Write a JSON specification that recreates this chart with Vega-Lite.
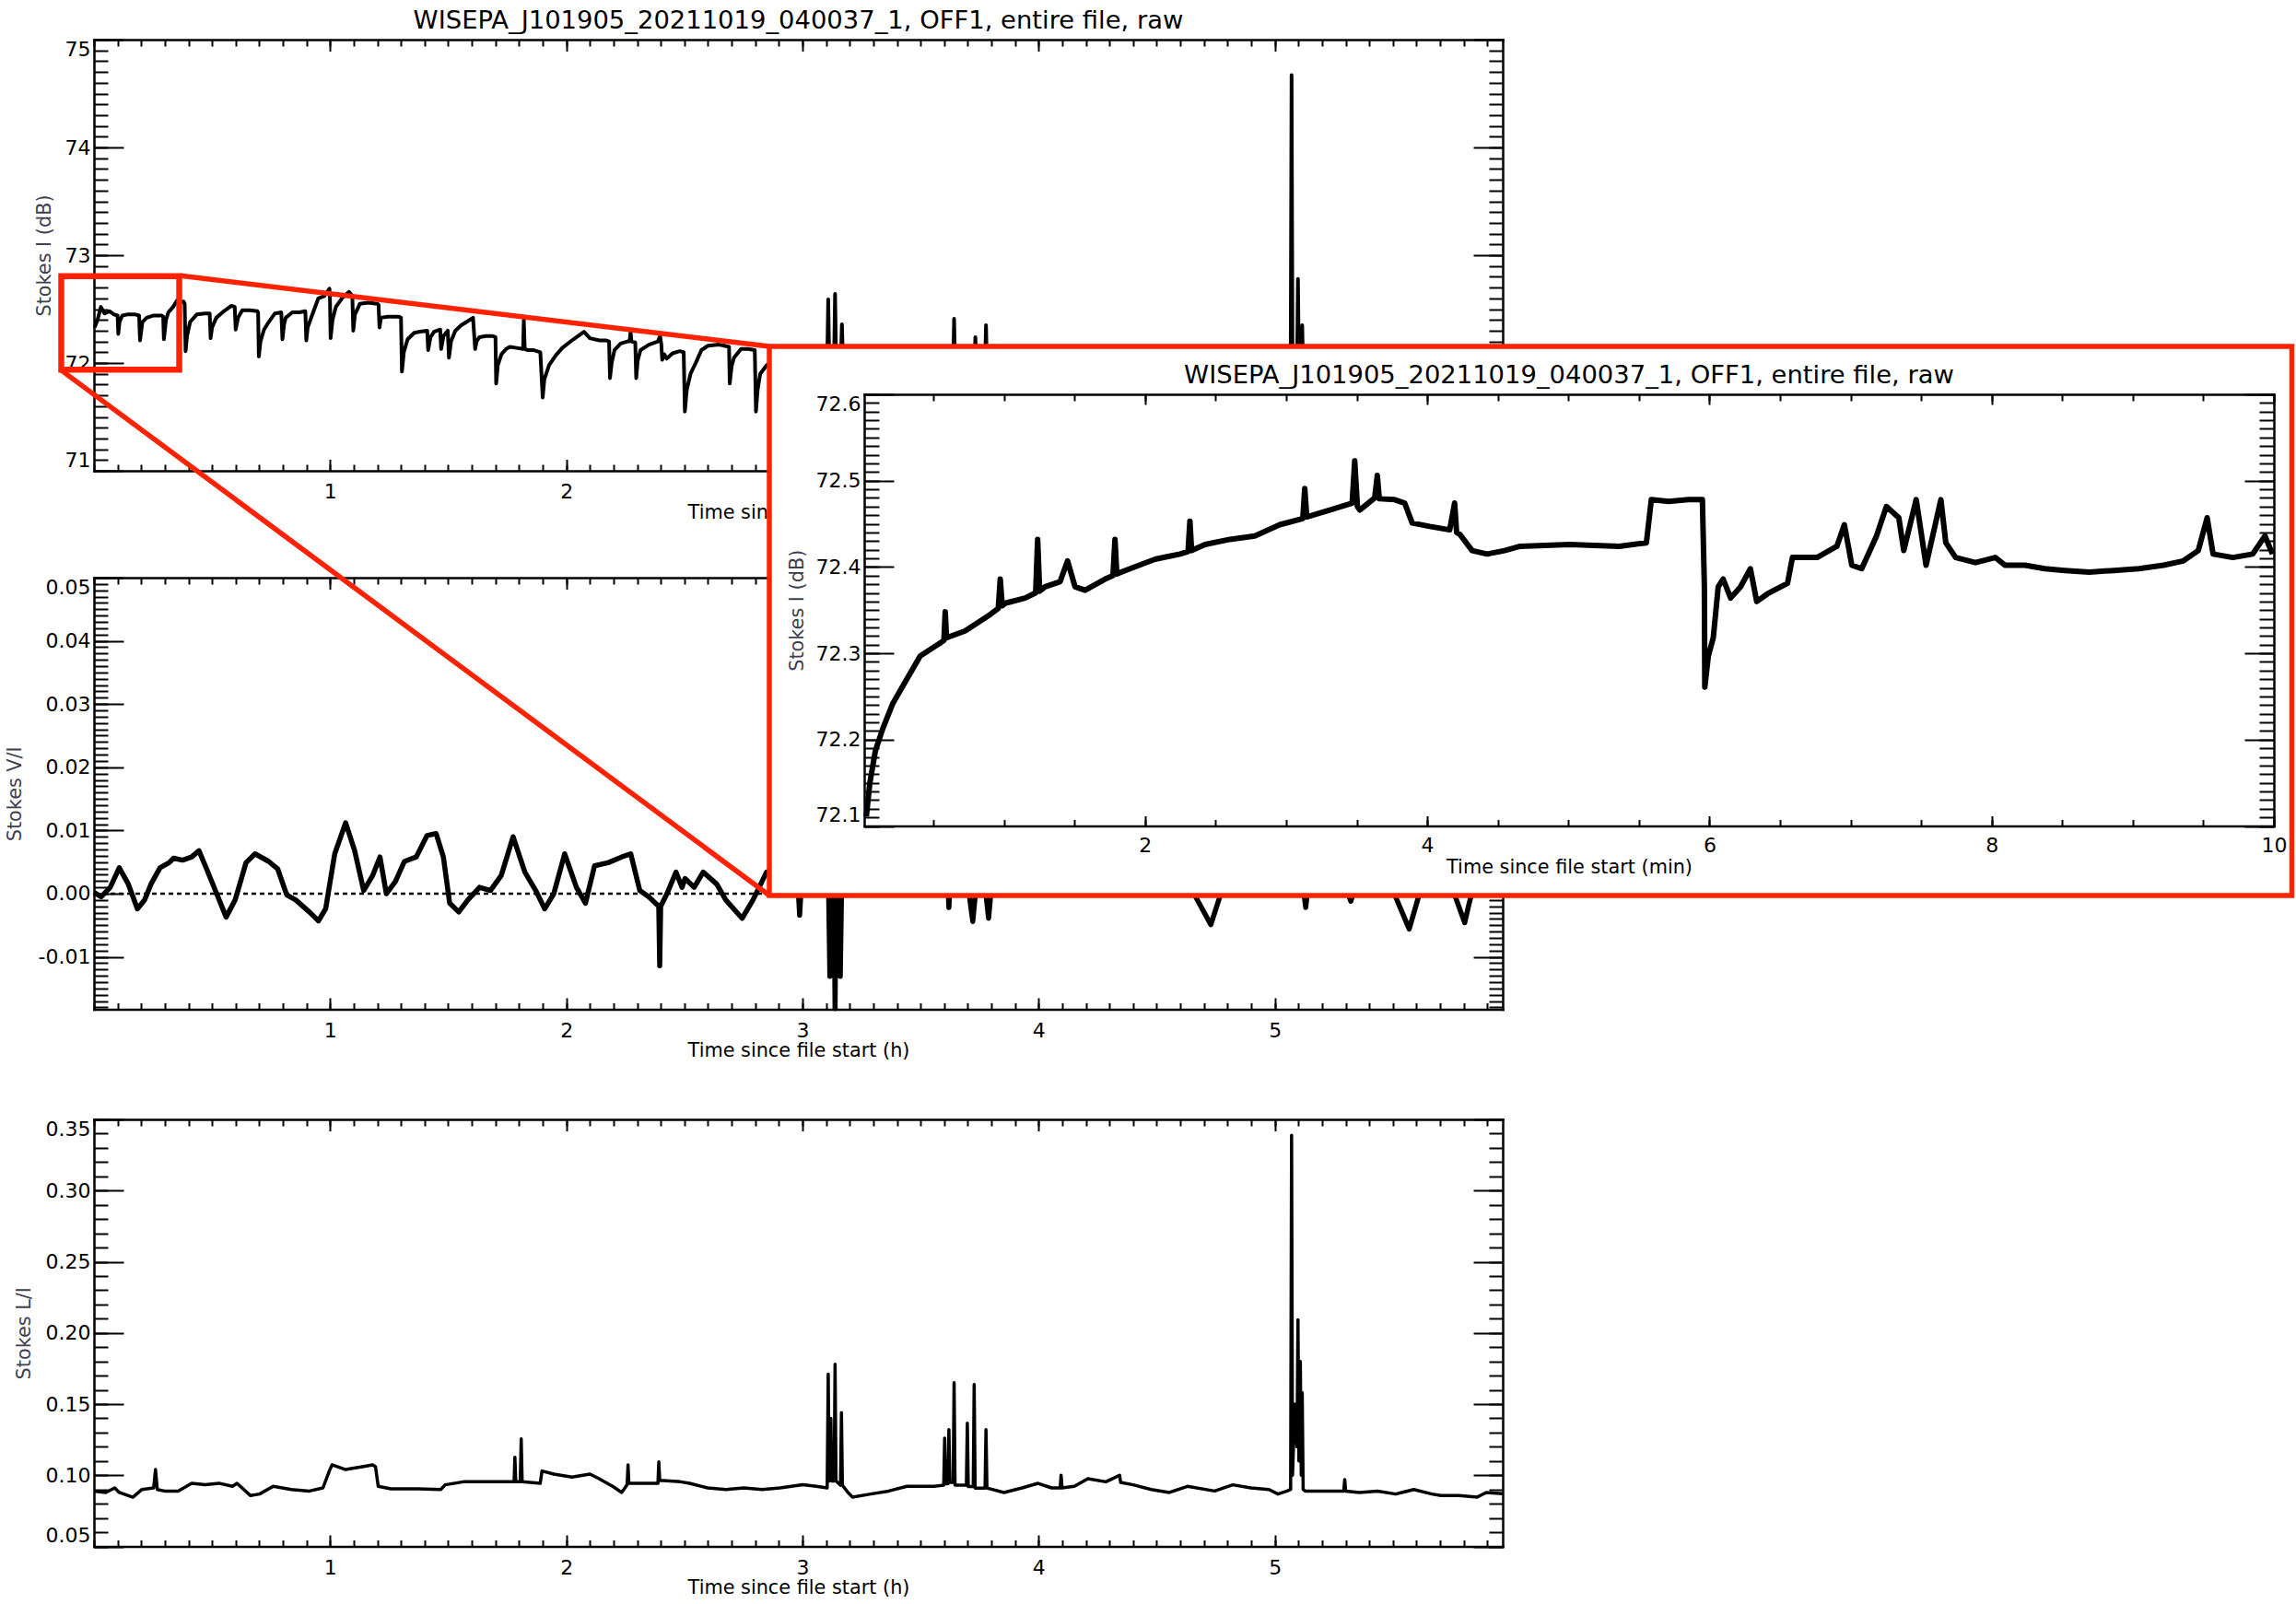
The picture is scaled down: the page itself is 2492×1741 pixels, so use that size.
{
"$schema": "https://vega.github.io/schema/vega-lite/v6.json",
"width": 2492, "height": 1741,
"autosize": {"type": "none"},
"padding": 0,
"background": "white",
"config": {
  "view": {"stroke": null},
  "font": "DejaVu Sans",
  "axis": {"grid": false, "domainColor": "#000", "domainWidth": 2.5, "domainCap": "square", "tickColor": "#000", "tickWidth": 2, "labelColor": "#000", "labelFont": "DejaVu Sans", "labelFontSize": 22, "titleFont": "DejaVu Sans", "titleFontSize": 20.8, "titleFontWeight": "normal", "titleColor": "#000", "minExtent": 0, "maxExtent": 3000, "labelOverlap": false, "labelFlush": false, "zindex": 0}
},
"datasets": {
  "stokesI": [
    {"h":0.003,"v":72.33},{"h":0.015,"v":72.40},{"h":0.029,"v":72.52},{"h":0.045,"v":72.46},{"h":0.066,"v":72.48},{"h":0.085,"v":72.45},{"h":0.100,"v":72.44},{"h":0.103,"v":72.27},{"h":0.108,"v":72.38},{"h":0.120,"v":72.44},{"h":0.140,"v":72.45},{"h":0.176,"v":72.45},{"h":0.191,"v":72.44},{"h":0.195,"v":72.21},{"h":0.205,"v":72.38},{"h":0.223,"v":72.42},{"h":0.250,"v":72.44},{"h":0.287,"v":72.44},{"h":0.293,"v":72.43},{"h":0.296,"v":72.22},{"h":0.305,"v":72.40},{"h":0.315,"v":72.47},{"h":0.335,"v":72.52},{"h":0.352,"v":72.58},{"h":0.360,"v":72.56},{"h":0.379,"v":72.57},{"h":0.384,"v":72.55},{"h":0.388,"v":72.11},{"h":0.394,"v":72.25},{"h":0.407,"v":72.38},{"h":0.435,"v":72.45},{"h":0.470,"v":72.46},{"h":0.490,"v":72.46},{"h":0.494,"v":72.23},{"h":0.500,"v":72.33},{"h":0.518,"v":72.42},{"h":0.550,"v":72.48},{"h":0.582,"v":72.53},{"h":0.596,"v":72.52},{"h":0.600,"v":72.31},{"h":0.610,"v":72.42},{"h":0.628,"v":72.49},{"h":0.660,"v":72.49},{"h":0.692,"v":72.48},{"h":0.695,"v":72.47},{"h":0.698,"v":72.06},{"h":0.705,"v":72.20},{"h":0.720,"v":72.31},{"h":0.740,"v":72.38},{"h":0.766,"v":72.46},{"h":0.793,"v":72.47},{"h":0.798,"v":72.22},{"h":0.805,"v":72.36},{"h":0.812,"v":72.42},{"h":0.840,"v":72.47},{"h":0.870,"v":72.47},{"h":0.895,"v":72.48},{"h":0.899,"v":72.21},{"h":0.905,"v":72.33},{"h":0.923,"v":72.44},{"h":0.950,"v":72.60},{"h":0.975,"v":72.62},{"h":0.997,"v":72.69},{"h":0.999,"v":72.62},{"h":1.002,"v":72.23},{"h":1.010,"v":72.40},{"h":1.024,"v":72.52},{"h":1.050,"v":72.60},{"h":1.080,"v":72.66},{"h":1.094,"v":72.62},{"h":1.098,"v":72.30},{"h":1.105,"v":72.45},{"h":1.126,"v":72.55},{"h":1.160,"v":72.56},{"h":1.199,"v":72.55},{"h":1.205,"v":72.54},{"h":1.209,"v":72.33},{"h":1.215,"v":72.42},{"h":1.245,"v":72.43},{"h":1.270,"v":72.43},{"h":1.291,"v":72.43},{"h":1.300,"v":72.42},{"h":1.304,"v":71.92},{"h":1.312,"v":72.10},{"h":1.328,"v":72.22},{"h":1.356,"v":72.28},{"h":1.380,"v":72.29},{"h":1.411,"v":72.30},{"h":1.415,"v":72.12},{"h":1.425,"v":72.24},{"h":1.440,"v":72.29},{"h":1.466,"v":72.31},{"h":1.470,"v":72.13},{"h":1.480,"v":72.25},{"h":1.498,"v":72.30},{"h":1.503,"v":72.05},{"h":1.512,"v":72.20},{"h":1.530,"v":72.30},{"h":1.555,"v":72.35},{"h":1.577,"v":72.38},{"h":1.605,"v":72.42},{"h":1.614,"v":72.13},{"h":1.620,"v":72.20},{"h":1.632,"v":72.24},{"h":1.660,"v":72.25},{"h":1.688,"v":72.25},{"h":1.700,"v":72.24},{"h":1.703,"v":71.81},{"h":1.710,"v":71.98},{"h":1.725,"v":72.08},{"h":1.745,"v":72.13},{"h":1.761,"v":72.15},{"h":1.790,"v":72.14},{"h":1.817,"v":72.13},{"h":1.820,"v":72.40},{"h":1.824,"v":72.13},{"h":1.835,"v":72.12},{"h":1.860,"v":72.12},{"h":1.890,"v":72.10},{"h":1.900,"v":71.68},{"h":1.907,"v":71.85},{"h":1.927,"v":71.98},{"h":1.955,"v":72.07},{"h":1.983,"v":72.14},{"h":2.030,"v":72.22},{"h":2.075,"v":72.29},{"h":2.100,"v":72.23},{"h":2.140,"v":72.21},{"h":2.167,"v":72.21},{"h":2.181,"v":72.20},{"h":2.185,"v":71.86},{"h":2.192,"v":72.00},{"h":2.204,"v":72.12},{"h":2.230,"v":72.18},{"h":2.259,"v":72.20},{"h":2.268,"v":72.20},{"h":2.272,"v":72.29},{"h":2.276,"v":72.20},{"h":2.292,"v":72.19},{"h":2.296,"v":71.86},{"h":2.302,"v":72.02},{"h":2.314,"v":72.12},{"h":2.350,"v":72.17},{"h":2.388,"v":72.20},{"h":2.397,"v":72.25},{"h":2.402,"v":72.18},{"h":2.406,"v":72.03},{"h":2.415,"v":72.08},{"h":2.425,"v":72.04},{"h":2.450,"v":72.09},{"h":2.480,"v":72.11},{"h":2.497,"v":72.10},{"h":2.502,"v":71.55},{"h":2.510,"v":71.75},{"h":2.526,"v":71.90},{"h":2.550,"v":72.01},{"h":2.572,"v":72.12},{"h":2.600,"v":72.16},{"h":2.646,"v":72.17},{"h":2.670,"v":72.16},{"h":2.689,"v":72.15},{"h":2.692,"v":71.81},{"h":2.700,"v":71.97},{"h":2.710,"v":72.05},{"h":2.740,"v":72.13},{"h":2.770,"v":72.13},{"h":2.798,"v":72.12},{"h":2.803,"v":71.55},{"h":2.810,"v":71.75},{"h":2.821,"v":71.90},{"h":2.849,"v":71.98},{"h":2.900,"v":72.04},{"h":2.950,"v":72.07},{"h":3.000,"v":72.08},{"h":3.060,"v":72.05},{"h":3.105,"v":72.05},{"h":3.109,"v":72.59},{"h":3.113,"v":72.05},{"h":3.134,"v":72.06},{"h":3.138,"v":72.64},{"h":3.142,"v":72.06},{"h":3.163,"v":72.06},{"h":3.167,"v":72.36},{"h":3.171,"v":72.05},{"h":3.300,"v":72.00},{"h":3.450,"v":71.98},{"h":3.600,"v":71.95},{"h":3.638,"v":71.95},{"h":3.642,"v":72.41},{"h":3.646,"v":71.95},{"h":3.728,"v":71.95},{"h":3.732,"v":72.24},{"h":3.736,"v":71.95},{"h":3.773,"v":71.95},{"h":3.777,"v":72.35},{"h":3.781,"v":71.95},{"h":4.000,"v":71.95},{"h":4.300,"v":71.92},{"h":4.600,"v":71.90},{"h":4.900,"v":71.88},{"h":5.067,"v":71.88},{"h":5.071,"v":74.67},{"h":5.075,"v":71.90},{"h":5.094,"v":71.90},{"h":5.098,"v":72.78},{"h":5.102,"v":71.92},{"h":5.112,"v":71.92},{"h":5.116,"v":72.35},{"h":5.120,"v":71.90},{"h":5.400,"v":71.88},{"h":5.700,"v":71.85},{"h":5.965,"v":71.85}
  ],
  "stokesV": [
    {"h":0.000,"v":0.0002},{"h":0.0305,"v":-0.0005},{"h":0.0689,"v":0.0010},{"h":0.107,"v":0.0041},{"h":0.1455,"v":0.0015},{"h":0.1839,"v":-0.0024},{"h":0.2145,"v":-0.0010},{"h":0.2413,"v":0.0015},{"h":0.2797,"v":0.0041},{"h":0.318,"v":0.0049},{"h":0.337,"v":0.0056},{"h":0.3755,"v":0.0053},{"h":0.4138,"v":0.0058},{"h":0.4445,"v":0.0068},{"h":0.4713,"v":0.0044},{"h":0.5097,"v":0.0009},{"h":0.5595,"v":-0.0037},{"h":0.5978,"v":-0.0010},{"h":0.6438,"v":0.0049},{"h":0.6821,"v":0.0063},{"h":0.7396,"v":0.0051},{"h":0.778,"v":0.0039},{"h":0.8163,"v":-0.0002},{"h":0.8546,"v":-0.0010},{"h":0.912,"v":-0.0029},{"h":0.9505,"v":-0.0043},{"h":0.981,"v":-0.0024},{"h":1.0194,"v":0.0063},{"h":1.0654,"v":0.0112},{"h":1.1038,"v":0.0068},{"h":1.142,"v":0.0005},{"h":1.1804,"v":0.0029},{"h":1.211,"v":0.0058},{"h":1.2379,"v":0.0000},{"h":1.2762,"v":0.0019},{"h":1.3146,"v":0.0051},{"h":1.3644,"v":0.0058},{"h":1.4104,"v":0.0092},{"h":1.4487,"v":0.0095},{"h":1.4794,"v":0.0058},{"h":1.5062,"v":-0.0015},{"h":1.5446,"v":-0.0029},{"h":1.583,"v":-0.0010},{"h":1.6327,"v":0.0010},{"h":1.6787,"v":0.0005},{"h":1.7247,"v":0.0029},{"h":1.7746,"v":0.0090},{"h":1.8244,"v":0.0034},{"h":1.8704,"v":0.0005},{"h":1.9087,"v":-0.0024},{"h":1.947,"v":0.0000},{"h":1.993,"v":0.0063},{"h":2.0429,"v":0.0010},{"h":2.0812,"v":-0.0015},{"h":2.1195,"v":0.0044},{"h":2.177,"v":0.0049},{"h":2.2345,"v":0.0058},{"h":2.2728,"v":0.0063},{"h":2.3112,"v":0.0005},{"h":2.3495,"v":-0.0005},{"h":2.3915,"v":-0.0020},{"h":2.3955,"v":-0.0114},{"h":2.3995,"v":-0.0020},{"h":2.4262,"v":0.0000},{"h":2.4645,"v":0.0034},{"h":2.49,"v":0.0010},{"h":2.5028,"v":0.0024},{"h":2.5412,"v":0.0010},{"h":2.5795,"v":0.0034},{"h":2.637,"v":0.0015},{"h":2.6753,"v":-0.0010},{"h":2.7443,"v":-0.0039},{"h":2.7903,"v":-0.0010},{"h":2.8478,"v":0.0034},{"h":2.90,"v":0.0040},{"h":2.98,"v":0.0020},{"h":2.988,"v":-0.0034},{"h":2.996,"v":0.0020},{"h":3.05,"v":0.0030},{"h":3.11,"v":0.0020},{"h":3.116,"v":-0.0131},{"h":3.122,"v":0.0010},{"h":3.134,"v":0.0010},{"h":3.138,"v":-0.0182},{"h":3.142,"v":0.0010},{"h":3.155,"v":0.0010},{"h":3.160,"v":-0.0131},{"h":3.166,"v":0.0020},{"h":3.30,"v":0.0030},{"h":3.45,"v":0.0025},{"h":3.615,"v":0.0020},{"h":3.620,"v":-0.0022},{"h":3.625,"v":0.0020},{"h":3.70,"v":0.0015},{"h":3.721,"v":-0.0044},{"h":3.735,"v":0.0010},{"h":3.775,"v":0.0005},{"h":3.788,"v":-0.0039},{"h":3.80,"v":0.0010},{"h":4.0,"v":0.0030},{"h":4.34,"v":0.0020},{"h":4.60,"v":0.0020},{"h":4.65,"v":0.0005},{"h":4.729,"v":-0.0049},{"h":4.78,"v":0.0010},{"h":4.95,"v":0.0030},{"h":5.12,"v":0.0010},{"h":5.131,"v":-0.0022},{"h":5.14,"v":0.0010},{"h":5.30,"v":0.0010},{"h":5.322,"v":-0.0012},{"h":5.34,"v":0.0010},{"h":5.50,"v":0.0005},{"h":5.569,"v":-0.0056},{"h":5.62,"v":0.0010},{"h":5.75,"v":0.0010},{"h":5.804,"v":-0.0046},{"h":5.82,"v":-0.0020},{"h":5.84,"v":0.0010},{"h":5.965,"v":0.0010}
  ],
  "stokesL": [
    {"h":0.000,"v":0.0889},{"h":0.0497,"v":0.0879},{"h":0.088,"v":0.0911},{"h":0.107,"v":0.0879},{"h":0.1647,"v":0.0846},{"h":0.203,"v":0.0900},{"h":0.2528,"v":0.0911},{"h":0.2605,"v":0.1040},{"h":0.268,"v":0.0900},{"h":0.2988,"v":0.0889},{"h":0.3563,"v":0.0889},{"h":0.4138,"v":0.0944},{"h":0.4713,"v":0.0933},{"h":0.5288,"v":0.0944},{"h":0.5863,"v":0.0922},{"h":0.6055,"v":0.0943},{"h":0.663,"v":0.0857},{"h":0.7013,"v":0.0868},{"h":0.7588,"v":0.0922},{"h":0.8355,"v":0.0900},{"h":0.912,"v":0.0889},{"h":0.9696,"v":0.0911},{"h":0.9965,"v":0.1030},{"h":1.008,"v":0.1073},{"h":1.0654,"v":0.1040},{"h":1.142,"v":0.1062},{"h":1.1804,"v":0.1073},{"h":1.192,"v":0.1060},{"h":1.2035,"v":0.0922},{"h":1.257,"v":0.0905},{"h":1.372,"v":0.0905},{"h":1.468,"v":0.0900},{"h":1.487,"v":0.0933},{"h":1.5637,"v":0.0954},{"h":1.6404,"v":0.0954},{"h":1.7554,"v":0.0954},{"h":1.779,"v":0.0954},{"h":1.7822,"v":0.1127},{"h":1.786,"v":0.0954},{"h":1.805,"v":0.0954},{"h":1.809,"v":0.1256},{"h":1.813,"v":0.0954},{"h":1.8896,"v":0.0943},{"h":1.897,"v":0.1030},{"h":1.947,"v":0.1008},{"h":2.0237,"v":0.0987},{"h":2.1004,"v":0.1008},{"h":2.1387,"v":0.0976},{"h":2.196,"v":0.0922},{"h":2.2345,"v":0.0879},{"h":2.2575,"v":0.0933},{"h":2.2613,"v":0.1073},{"h":2.265,"v":0.0943},{"h":2.292,"v":0.0943},{"h":2.388,"v":0.0943},{"h":2.3917,"v":0.1094},{"h":2.3955,"v":0.0965},{"h":2.4836,"v":0.0954},{"h":2.522,"v":0.0943},{"h":2.5986,"v":0.0911},{"h":2.6753,"v":0.0900},{"h":2.752,"v":0.0911},{"h":2.8286,"v":0.0900},{"h":2.9053,"v":0.0911},{"h":3.001,"v":0.0933},{"h":3.0586,"v":0.0922},{"h":3.1046,"v":0.0911},{"h":3.109,"v":0.1710},{"h":3.113,"v":0.0960},{"h":3.12,"v":0.1400},{"h":3.124,"v":0.0960},{"h":3.134,"v":0.0960},{"h":3.138,"v":0.1780},{"h":3.142,"v":0.0960},{"h":3.161,"v":0.0930},{"h":3.165,"v":0.1440},{"h":3.169,"v":0.0930},{"h":3.1927,"v":0.0879},{"h":3.212,"v":0.0846},{"h":3.2886,"v":0.0868},{"h":3.3652,"v":0.0889},{"h":3.442,"v":0.0922},{"h":3.557,"v":0.0922},{"h":3.598,"v":0.0930},{"h":3.602,"v":0.1260},{"h":3.606,"v":0.0940},{"h":3.616,"v":0.0940},{"h":3.620,"v":0.1320},{"h":3.624,"v":0.0950},{"h":3.638,"v":0.0950},{"h":3.642,"v":0.1650},{"h":3.646,"v":0.0930},{"h":3.694,"v":0.0930},{"h":3.698,"v":0.1365},{"h":3.702,"v":0.0920},{"h":3.723,"v":0.0920},{"h":3.727,"v":0.1638},{"h":3.731,"v":0.0910},{"h":3.773,"v":0.0910},{"h":3.777,"v":0.1320},{"h":3.781,"v":0.0910},{"h":3.8535,"v":0.0879},{"h":3.930,"v":0.0911},{"h":3.9976,"v":0.0943},{"h":4.055,"v":0.0911},{"h":4.091,"v":0.0911},{"h":4.095,"v":0.1000},{"h":4.099,"v":0.0911},{"h":4.151,"v":0.0922},{"h":4.2085,"v":0.0976},{"h":4.285,"v":0.0954},{"h":4.3427,"v":0.1000},{"h":4.347,"v":0.0950},{"h":4.4,"v":0.0933},{"h":4.4768,"v":0.0900},{"h":4.5535,"v":0.0879},{"h":4.630,"v":0.0922},{"h":4.745,"v":0.0889},{"h":4.8218,"v":0.0933},{"h":4.8984,"v":0.0911},{"h":4.975,"v":0.0900},{"h":5.0134,"v":0.0868},{"h":5.0518,"v":0.0889},{"h":5.067,"v":0.0900},{"h":5.071,"v":0.3389},{"h":5.075,"v":0.1000},{"h":5.085,"v":0.1500},{"h":5.094,"v":0.1200},{"h":5.098,"v":0.2093},{"h":5.102,"v":0.1100},{"h":5.108,"v":0.1800},{"h":5.112,"v":0.1000},{"h":5.116,"v":0.1580},{"h":5.120,"v":0.0900},{"h":5.1284,"v":0.0889},{"h":5.205,"v":0.0889},{"h":5.292,"v":0.0889},{"h":5.296,"v":0.0970},{"h":5.300,"v":0.0889},{"h":5.358,"v":0.0879},{"h":5.4349,"v":0.0889},{"h":5.5117,"v":0.0868},{"h":5.5884,"v":0.0900},{"h":5.665,"v":0.0868},{"h":5.7033,"v":0.0857},{"h":5.78,"v":0.0857},{"h":5.8567,"v":0.0846},{"h":5.895,"v":0.0879},{"h":5.965,"v":0.0870}
  ],
  "zoomI": [
    {"t":0.025,"v":72.111},{"t":0.05,"v":72.150},{"t":0.089,"v":72.187},{"t":0.142,"v":72.213},{"t":0.213,"v":72.242},{"t":0.301,"v":72.267},{"t":0.407,"v":72.297},{"t":0.549,"v":72.312},{"t":0.575,"v":72.315},{"t":0.584,"v":72.348},{"t":0.593,"v":72.318},{"t":0.726,"v":72.326},{"t":0.903,"v":72.345},{"t":0.96,"v":72.352},{"t":0.974,"v":72.386},{"t":0.988,"v":72.355},{"t":1.009,"v":72.358},{"t":1.150,"v":72.364},{"t":1.225,"v":72.370},{"t":1.239,"v":72.432},{"t":1.253,"v":72.372},{"t":1.292,"v":72.377},{"t":1.398,"v":72.383},{"t":1.451,"v":72.407},{"t":1.504,"v":72.377},{"t":1.575,"v":72.373},{"t":1.717,"v":72.386},{"t":1.773,"v":72.390},{"t":1.787,"v":72.432},{"t":1.800,"v":72.392},{"t":1.894,"v":72.398},{"t":2.071,"v":72.409},{"t":2.248,"v":72.415},{"t":2.305,"v":72.418},{"t":2.318,"v":72.453},{"t":2.330,"v":72.419},{"t":2.425,"v":72.426},{"t":2.602,"v":72.432},{"t":2.778,"v":72.436},{"t":2.955,"v":72.449},{"t":3.118,"v":72.456},{"t":3.132,"v":72.491},{"t":3.146,"v":72.458},{"t":3.309,"v":72.466},{"t":3.468,"v":72.474},{"t":3.486,"v":72.523},{"t":3.505,"v":72.470},{"t":3.522,"v":72.466},{"t":3.628,"v":72.480},{"t":3.646,"v":72.506},{"t":3.660,"v":72.479},{"t":3.769,"v":72.478},{"t":3.840,"v":72.474},{"t":3.893,"v":72.451},{"t":4.017,"v":72.447},{"t":4.159,"v":72.443},{"t":4.194,"v":72.474},{"t":4.208,"v":72.440},{"t":4.230,"v":72.438},{"t":4.318,"v":72.419},{"t":4.424,"v":72.415},{"t":4.548,"v":72.419},{"t":4.659,"v":72.424},{"t":5.010,"v":72.426},{"t":5.360,"v":72.424},{"t":5.553,"v":72.428},{"t":5.588,"v":72.478},{"t":5.711,"v":72.476},{"t":5.851,"v":72.478},{"t":5.950,"v":72.478},{"t":5.964,"v":72.377},{"t":5.967,"v":72.261},{"t":5.992,"v":72.297},{"t":6.027,"v":72.318},{"t":6.062,"v":72.377},{"t":6.097,"v":72.386},{"t":6.150,"v":72.364},{"t":6.220,"v":72.377},{"t":6.290,"v":72.398},{"t":6.335,"v":72.360},{"t":6.412,"v":72.369},{"t":6.553,"v":72.381},{"t":6.588,"v":72.411},{"t":6.763,"v":72.411},{"t":6.903,"v":72.424},{"t":6.956,"v":72.449},{"t":7.009,"v":72.402},{"t":7.079,"v":72.398},{"t":7.184,"v":72.436},{"t":7.254,"v":72.470},{"t":7.342,"v":72.457},{"t":7.377,"v":72.419},{"t":7.465,"v":72.478},{"t":7.535,"v":72.402},{"t":7.640,"v":72.478},{"t":7.675,"v":72.428},{"t":7.745,"v":72.411},{"t":7.885,"v":72.405},{"t":8.026,"v":72.411},{"t":8.096,"v":72.402},{"t":8.236,"v":72.402},{"t":8.376,"v":72.398},{"t":8.517,"v":72.396},{"t":8.692,"v":72.394},{"t":8.867,"v":72.396},{"t":9.043,"v":72.398},{"t":9.218,"v":72.402},{"t":9.358,"v":72.407},{"t":9.464,"v":72.419},{"t":9.527,"v":72.457},{"t":9.569,"v":72.415},{"t":9.709,"v":72.411},{"t":9.850,"v":72.415},{"t":9.937,"v":72.436},{"t":9.990,"v":72.415}
  ]
},
"layer": [
  {
    "data": {"name": "stokesI"},
    "layer": [
      {"mark": {"type": "line", "color": "black", "strokeWidth": 4, "strokeJoin": "round"},
       "encoding": {
         "x": {"field": "h", "type": "quantitative", "scale": {"domain": [0, 5.965], "range": [102, 1631], "nice": false, "zero": false},
               "axis": {"orient": "bottom", "offset": -1230, "values": [1,2,3,4,5], "format": "d", "tickSize": -12.5, "labelPadding": 25, "title": "Time since file start (h)", "titleY": 51, "titleBaseline": "alphabetic"}},
         "y": {"field": "v", "type": "quantitative", "scale": {"domain": [71, 75], "range": [511, 43], "nice": false, "zero": false},
               "axis": {"orient": "left", "offset": -102, "values": [71,72,73,74,75], "format": "d", "tickSize": -32, "labelPadding": 36, "labelFlush": true, "title": "Stokes I (dB)", "titleX": -48, "titleAngle": 270, "titleBaseline": "alphabetic", "titleColor": "#404050"}}
       }},
      {"mark": {"type": "line", "opacity": 0},
       "encoding": {
         "x": {"field": "h", "type": "quantitative", "scale": {"domain": [0, 5.965], "range": [102, 1631], "nice": false, "zero": false},
               "axis": {"orient": "bottom", "offset": -1230, "tickCount": 50, "tickSize": -7, "labels": false, "domain": false, "title": null}},
         "y": {"field": "v", "type": "quantitative", "scale": {"domain": [71, 75], "range": [511, 43], "nice": false, "zero": false},
               "axis": {"orient": "left", "offset": -102, "tickCount": 35, "tickSize": -15, "labels": false, "domain": false, "title": null}}
       }},
      {"mark": {"type": "line", "opacity": 0},
       "encoding": {
         "x": {"field": "h", "type": "quantitative", "scale": {"domain": [0, 5.965], "range": [102, 1631], "nice": false, "zero": false},
               "axis": {"orient": "top", "offset": -43, "values": [1,2,3,4,5], "tickSize": -12.5, "labels": false, "title": null}},
         "y": {"field": "v", "type": "quantitative", "scale": {"domain": [71, 75], "range": [511, 43], "nice": false, "zero": false},
               "axis": {"orient": "right", "offset": -861, "values": [71,72,73,74,75], "tickSize": -32, "labels": false, "title": null}}
       }},
      {"mark": {"type": "line", "opacity": 0},
       "encoding": {
         "x": {"field": "h", "type": "quantitative", "scale": {"domain": [0, 5.965], "range": [102, 1631], "nice": false, "zero": false},
               "axis": {"orient": "top", "offset": -43, "tickCount": 50, "tickSize": -7, "labels": false, "domain": false, "title": null}},
         "y": {"field": "v", "type": "quantitative", "scale": {"domain": [71, 75], "range": [511, 43], "nice": false, "zero": false},
               "axis": {"orient": "right", "offset": -861, "tickCount": 35, "tickSize": -15, "labels": false, "domain": false, "title": null}}
       }},
      {"data": {"values": [{"t": "WISEPA_J101905_20211019_040037_1, OFF1, entire file, raw"}]},
       "mark": {"type": "text", "font": "DejaVu Sans", "fontSize": 27.4, "align": "center", "baseline": "alphabetic", "color": "black"},
       "encoding": {
         "x": {"datum": 2.9825, "type": "quantitative", "scale": {"domain": [0, 5.965], "range": [102, 1631], "nice": false, "zero": false}, "axis": null},
         "y": {"datum": 75.1026, "type": "quantitative", "scale": {"domain": [71, 75], "range": [511, 43], "nice": false, "zero": false}, "axis": null},
         "text": {"field": "t"}
       }}
    ],
    "resolve": {"axis": {"x": "independent", "y": "independent"}}
  },
  {
    "data": {"name": "stokesV"},
    "layer": [
      {"data": {"values": [{}]},
       "mark": {"type": "rule", "color": "black", "strokeWidth": 2.5, "strokeDash": [5, 4]},
       "encoding": {
         "x": {"datum": 0, "type": "quantitative", "scale": {"domain": [0, 5.965], "range": [102, 1631], "nice": false, "zero": false}, "axis": null},
         "x2": {"datum": 5.965},
         "y": {"datum": 0, "type": "quantitative", "scale": {"domain": [-0.0183, 0.05], "range": [1095.5, 627], "nice": false, "zero": false}, "axis": null}
       }},
      {"mark": {"type": "line", "color": "black", "strokeWidth": 5.5, "strokeJoin": "round"},
       "encoding": {
         "x": {"field": "h", "type": "quantitative", "scale": {"domain": [0, 5.965], "range": [102, 1631], "nice": false, "zero": false},
               "axis": {"orient": "bottom", "offset": -645.5, "values": [1,2,3,4,5], "format": "d", "tickSize": -12.5, "labelPadding": 25, "title": "Time since file start (h)", "titleY": 51, "titleBaseline": "alphabetic"}},
         "y": {"field": "v", "type": "quantitative", "scale": {"domain": [-0.0183, 0.05], "range": [1095.5, 627], "nice": false, "zero": false},
               "axis": {"orient": "left", "offset": -102, "values": [-0.01,0,0.01,0.02,0.03,0.04,0.05], "labelExpr": "(datum.value < 0 ? '-' : '') + format(abs(datum.value), '.2f')", "tickSize": -32, "labelPadding": 36, "labelFlush": true, "title": "Stokes V/I", "titleX": -79.5, "titleAngle": 270, "titleBaseline": "alphabetic", "titleColor": "#404050"}}
       }},
      {"mark": {"type": "line", "opacity": 0},
       "encoding": {
         "x": {"field": "h", "type": "quantitative", "scale": {"domain": [0, 5.965], "range": [102, 1631], "nice": false, "zero": false},
               "axis": {"orient": "bottom", "offset": -645.5, "tickCount": 50, "tickSize": -7, "labels": false, "domain": false, "title": null}},
         "y": {"field": "v", "type": "quantitative", "scale": {"domain": [-0.0183, 0.05], "range": [1095.5, 627], "nice": false, "zero": false},
               "axis": {"orient": "left", "offset": -102, "tickCount": 60, "tickSize": -15, "labels": false, "domain": false, "title": null}}
       }},
      {"mark": {"type": "line", "opacity": 0},
       "encoding": {
         "x": {"field": "h", "type": "quantitative", "scale": {"domain": [0, 5.965], "range": [102, 1631], "nice": false, "zero": false},
               "axis": {"orient": "top", "offset": -627, "values": [1,2,3,4,5], "tickSize": -12.5, "labels": false, "title": null}},
         "y": {"field": "v", "type": "quantitative", "scale": {"domain": [-0.0183, 0.05], "range": [1095.5, 627], "nice": false, "zero": false},
               "axis": {"orient": "right", "offset": -861, "values": [-0.01,0,0.01,0.02,0.03,0.04,0.05], "tickSize": -32, "labels": false, "title": null}}
       }},
      {"mark": {"type": "line", "opacity": 0},
       "encoding": {
         "x": {"field": "h", "type": "quantitative", "scale": {"domain": [0, 5.965], "range": [102, 1631], "nice": false, "zero": false},
               "axis": {"orient": "top", "offset": -627, "tickCount": 50, "tickSize": -7, "labels": false, "domain": false, "title": null}},
         "y": {"field": "v", "type": "quantitative", "scale": {"domain": [-0.0183, 0.05], "range": [1095.5, 627], "nice": false, "zero": false},
               "axis": {"orient": "right", "offset": -861, "tickCount": 60, "tickSize": -15, "labels": false, "domain": false, "title": null}}
       }}
    ],
    "resolve": {"axis": {"x": "independent", "y": "independent"}}
  },
  {
    "data": {"name": "stokesL"},
    "layer": [
      {"mark": {"type": "line", "color": "black", "strokeWidth": 3.5, "strokeJoin": "round"},
       "encoding": {
         "x": {"field": "h", "type": "quantitative", "scale": {"domain": [0, 5.965], "range": [102, 1631], "nice": false, "zero": false},
               "axis": {"orient": "bottom", "offset": -62.5, "values": [1,2,3,4,5], "format": "d", "tickSize": -12.5, "labelPadding": 25, "title": "Time since file start (h)", "titleY": 51, "titleBaseline": "alphabetic"}},
         "y": {"field": "v", "type": "quantitative", "scale": {"domain": [0.05, 0.35], "range": [1678.5, 1215], "nice": false, "zero": false},
               "axis": {"orient": "left", "offset": -102, "values": [0.05,0.1,0.15,0.2,0.25,0.3,0.35], "format": ".2f", "tickSize": -32, "labelPadding": 36, "labelFlush": true, "title": "Stokes L/I", "titleX": -70, "titleAngle": 270, "titleBaseline": "alphabetic", "titleColor": "#404050"}}
       }},
      {"mark": {"type": "line", "opacity": 0},
       "encoding": {
         "x": {"field": "h", "type": "quantitative", "scale": {"domain": [0, 5.965], "range": [102, 1631], "nice": false, "zero": false},
               "axis": {"orient": "bottom", "offset": -62.5, "tickCount": 50, "tickSize": -7, "labels": false, "domain": false, "title": null}},
         "y": {"field": "v", "type": "quantitative", "scale": {"domain": [0.05, 0.35], "range": [1678.5, 1215], "nice": false, "zero": false},
               "axis": {"orient": "left", "offset": -102, "tickCount": 25, "tickSize": -15, "labels": false, "domain": false, "title": null}}
       }},
      {"mark": {"type": "line", "opacity": 0},
       "encoding": {
         "x": {"field": "h", "type": "quantitative", "scale": {"domain": [0, 5.965], "range": [102, 1631], "nice": false, "zero": false},
               "axis": {"orient": "top", "offset": -1215, "values": [1,2,3,4,5], "tickSize": -12.5, "labels": false, "title": null}},
         "y": {"field": "v", "type": "quantitative", "scale": {"domain": [0.05, 0.35], "range": [1678.5, 1215], "nice": false, "zero": false},
               "axis": {"orient": "right", "offset": -861, "values": [0.05,0.1,0.15,0.2,0.25,0.3,0.35], "tickSize": -32, "labels": false, "title": null}}
       }},
      {"mark": {"type": "line", "opacity": 0},
       "encoding": {
         "x": {"field": "h", "type": "quantitative", "scale": {"domain": [0, 5.965], "range": [102, 1631], "nice": false, "zero": false},
               "axis": {"orient": "top", "offset": -1215, "tickCount": 50, "tickSize": -7, "labels": false, "domain": false, "title": null}},
         "y": {"field": "v", "type": "quantitative", "scale": {"domain": [0.05, 0.35], "range": [1678.5, 1215], "nice": false, "zero": false},
               "axis": {"orient": "right", "offset": -861, "tickCount": 25, "tickSize": -15, "labels": false, "domain": false, "title": null}}
       }}
    ],
    "resolve": {"axis": {"x": "independent", "y": "independent"}}
  },
  {
    "layer": [
      {"data": {"values": [{"x1": -0.1385, "x2": 0.361, "y1": 71.937, "y2": 72.806}]},
       "mark": {"type": "rect", "fill": "transparent", "stroke": "#ff2200", "strokeWidth": 6.5},
       "encoding": {
         "x": {"field": "x1", "type": "quantitative", "scale": {"domain": [0, 5.965], "range": [102, 1631], "nice": false, "zero": false}, "axis": null},
         "x2": {"field": "x2"},
         "y": {"field": "y1", "type": "quantitative", "scale": {"domain": [71, 75], "range": [511, 43], "nice": false, "zero": false}, "axis": null},
         "y2": {"field": "y2"}
       }},
      {"data": {"values": [{"x1": 0.367, "y1": 72.81, "x2": 2.8604, "y2": 72.1538}, {"x1": -0.14, "y1": 71.935, "x2": 2.8604, "y2": 67.0598}]},
       "mark": {"type": "rule", "color": "#ff2200", "strokeWidth": 5.5},
       "encoding": {
         "x": {"field": "x1", "type": "quantitative", "scale": {"domain": [0, 5.965], "range": [102, 1631], "nice": false, "zero": false}, "axis": null},
         "x2": {"field": "x2"},
         "y": {"field": "y1", "type": "quantitative", "scale": {"domain": [71, 75], "range": [511, 43], "nice": false, "zero": false}, "axis": null},
         "y2": {"field": "y2"}
       }}
    ]
  },
  {
    "data": {"name": "zoomI"},
    "layer": [
      {"data": {"values": [{"x1": -0.6625, "x2": 10.1275, "y1": 72.0194, "y2": 72.6555}]},
       "mark": {"type": "rect", "fill": "white", "stroke": "#ff2200", "strokeWidth": 5.5},
       "encoding": {
         "x": {"field": "x1", "type": "quantitative", "scale": {"domain": [0.01, 10], "range": [938, 2468], "nice": false, "zero": false}, "axis": null},
         "x2": {"field": "x2"},
         "y": {"field": "y1", "type": "quantitative", "scale": {"domain": [72.1, 72.6], "range": [896.5, 428], "nice": false, "zero": false}, "axis": null},
         "y2": {"field": "y2"}
       }},
      {"mark": {"type": "line", "color": "black", "strokeWidth": 6, "strokeJoin": "round"},
       "encoding": {
         "x": {"field": "t", "type": "quantitative", "scale": {"domain": [0.01, 10], "range": [938, 2468], "nice": false, "zero": false},
               "axis": {"orient": "bottom", "offset": -844.5, "values": [2,4,6,8,10], "format": "d", "tickSize": -11, "labelPadding": 22, "title": "Time since file start (min)", "titleY": 51, "titleBaseline": "alphabetic", "zindex": 1}},
         "y": {"field": "v", "type": "quantitative", "scale": {"domain": [72.1, 72.6], "range": [896.5, 428], "nice": false, "zero": false},
               "axis": {"orient": "left", "offset": -938, "values": [72.1,72.2,72.3,72.4,72.5,72.6], "format": ".1f", "tickSize": -32, "labelPadding": 36, "labelFlush": true, "title": "Stokes I (dB)", "titleX": -67, "titleAngle": 270, "titleBaseline": "alphabetic", "titleColor": "#404050", "zindex": 1}}
       }},
      {"mark": {"type": "line", "opacity": 0},
       "encoding": {
         "x": {"field": "t", "type": "quantitative", "scale": {"domain": [0.01, 10], "range": [938, 2468], "nice": false, "zero": false},
               "axis": {"orient": "bottom", "offset": -844.5, "tickCount": 17, "tickSize": -7, "labels": false, "domain": false, "title": null, "zindex": 1}},
         "y": {"field": "v", "type": "quantitative", "scale": {"domain": [72.1, 72.6], "range": [896.5, 428], "nice": false, "zero": false},
               "axis": {"orient": "left", "offset": -938, "tickCount": 45, "tickSize": -16, "labels": false, "domain": false, "title": null, "zindex": 1}}
       }},
      {"mark": {"type": "line", "opacity": 0},
       "encoding": {
         "x": {"field": "t", "type": "quantitative", "scale": {"domain": [0.01, 10], "range": [938, 2468], "nice": false, "zero": false},
               "axis": {"orient": "top", "offset": -428, "values": [2,4,6,8,10], "tickSize": -11, "labels": false, "title": null, "zindex": 1}},
         "y": {"field": "v", "type": "quantitative", "scale": {"domain": [72.1, 72.6], "range": [896.5, 428], "nice": false, "zero": false},
               "axis": {"orient": "right", "offset": -24, "values": [72.1,72.2,72.3,72.4,72.5,72.6], "tickSize": -32, "labels": false, "title": null, "zindex": 1}}
       }},
      {"mark": {"type": "line", "opacity": 0},
       "encoding": {
         "x": {"field": "t", "type": "quantitative", "scale": {"domain": [0.01, 10], "range": [938, 2468], "nice": false, "zero": false},
               "axis": {"orient": "top", "offset": -428, "tickCount": 17, "tickSize": -7, "labels": false, "domain": false, "title": null, "zindex": 1}},
         "y": {"field": "v", "type": "quantitative", "scale": {"domain": [72.1, 72.6], "range": [896.5, 428], "nice": false, "zero": false},
               "axis": {"orient": "right", "offset": -24, "tickCount": 45, "tickSize": -16, "labels": false, "domain": false, "title": null, "zindex": 1}}
       }},
      {"data": {"values": [{"t": "WISEPA_J101905_20211019_040037_1, OFF1, entire file, raw"}]},
       "mark": {"type": "text", "font": "DejaVu Sans", "fontSize": 27.4, "align": "center", "baseline": "alphabetic", "color": "black"},
       "encoding": {
         "x": {"datum": 5.005, "type": "quantitative", "scale": {"domain": [0.01, 10], "range": [938, 2468], "nice": false, "zero": false}, "axis": null},
         "y": {"datum": 72.6128, "type": "quantitative", "scale": {"domain": [72.1, 72.6], "range": [896.5, 428], "nice": false, "zero": false}, "axis": null},
         "text": {"field": "t"}
       }}
    ],
    "resolve": {"axis": {"x": "independent", "y": "independent"}}
  }
],
"resolve": {"scale": {"x": "independent", "y": "independent"}, "axis": {"x": "independent", "y": "independent"}}
}
